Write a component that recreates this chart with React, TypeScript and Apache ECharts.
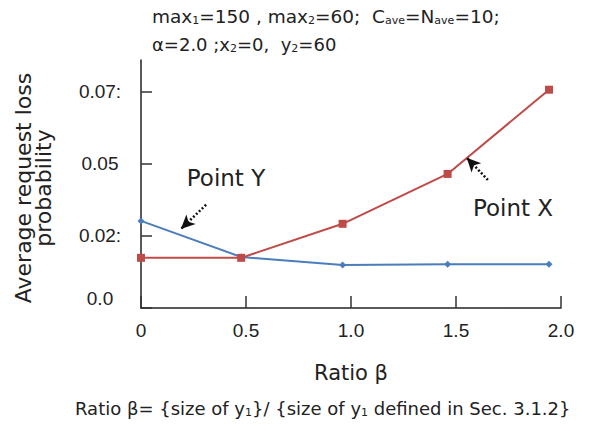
import React, { useEffect, useRef } from "react";
import * as echarts from "echarts";

const betaRed = [0, 0.477, 0.96, 1.46, 1.943];
const lossRed = [0.0174, 0.0174, 0.0292, 0.0465, 0.0757];
const betaBlue = [0, 0.477, 0.96, 1.46, 1.943];
const lossBlue = [0.0302, 0.0177, 0.0149, 0.0152, 0.0152];
const xTicks = [0, 0.5, 1.0, 1.5, 2.0];
const xTickLabels = ["0", "0.5", "1.0", "1.5", "2.0"];
const yTicks = [0, 0.025, 0.05, 0.075];
const yTickLabels = ["0.0", "0.02:", "0.05", "0.07:"];
const arrowY = [[0.31, 0.0358], [0.19, 0.0274]];
const arrowX = [[1.652, 0.0444], [1.551, 0.0521]];

const FONT = "Liberation Sans, Arial, sans-serif";
const WIDE = "DejaVu Sans, sans-serif";

export default function App() {
  const ref = useRef<HTMLDivElement>(null);
  useEffect(() => {
    if (!ref.current) return;
    const chart = echarts.init(ref.current, undefined, { renderer: "svg" });
    const arrowLine = (pts: number[][]) => ({
      silent: true,
      symbol: ["none", "arrow"],
      symbolSize: [10, 14],
      label: { show: false },
      lineStyle: { color: "#111", type: [2, 2], width: 2.5 },
      data: [[{ coord: pts[0] }, { coord: pts[1] }]],
    });
    const sub = { fontSize: 11, fill: "#222", padding: [8, 0, 0, 0], fontFamily: WIDE };
    chart.setOption({
      animation: false,
      grid: { left: 141, right: 54, top: 60, bottom: 123, containLabel: false },
      xAxis: {
        type: "value",
        min: 0,
        max: 2,
        interval: 0.5,
        axisLine: { lineStyle: { color: "#222", width: 1.5 } },
        axisTick: { inside: true, length: 12, lineStyle: { color: "#333", width: 1.5 }, customValues: xTicks },
        splitLine: { show: false },
        axisLabel: {
          customValues: xTicks,
          margin: 13,
          color: "#222",
          fontFamily: FONT,
          fontSize: 19,
          formatter: (v: number) => xTickLabels[xTicks.findIndex((t) => Math.abs(t - v) < 1e-9)] ?? "",
        },
        name: "Ratio β",
        nameLocation: "middle",
        nameGap: 54,
        nameTextStyle: { color: "#222", fontFamily: WIDE, fontSize: 21 },
      },
      yAxis: {
        type: "value",
        min: 0,
        max: 0.086,
        axisLine: { show: true, lineStyle: { color: "#222", width: 1.5 } },
        axisTick: { show: true, inside: true, length: 11, lineStyle: { color: "#333", width: 1.5 }, customValues: yTicks },
        splitLine: { show: false },
        axisLabel: {
          customValues: yTicks,
          align: "center",
          margin: 41,
          color: "#222",
          fontFamily: FONT,
          fontSize: 19,
          formatter: (v: number) => {
            const i = yTicks.findIndex((t) => Math.abs(t - v) < 1e-9);
            if (i === 0) return "{z|" + yTickLabels[0] + "}";
            return i >= 0 ? yTickLabels[i] : "";
          },
          rich: { z: { fontFamily: FONT, fontSize: 19, color: "#222", padding: [0, 0, 20, 0] } },
        },
      },
      series: [
        {
          type: "line",
          data: betaBlue.map((b, i) => [b, lossBlue[i]]),
          symbol: "diamond",
          symbolSize: 7,
          clip: false,
          itemStyle: { color: "#4A7EBB" },
          lineStyle: { color: "#4A7EBB", width: 2 },
          markLine: arrowLine(arrowY),
          z: 2,
        },
        {
          type: "line",
          data: betaRed.map((b, i) => [b, lossRed[i]]),
          symbol: "rect",
          symbolSize: 8,
          clip: false,
          itemStyle: { color: "#BE4B48" },
          lineStyle: { color: "#BE4B48", width: 2 },
          markLine: arrowLine(arrowX),
          z: 3,
        },
      ],
      graphic: [
        {
          type: "text",
          x: 152,
          y: 16,
          style: {
            text: "max{s|1}=150 , max{s|2}=60;  C{s|ave}=N{s|ave}=10;",
            font: "18.5px " + WIDE,
            fill: "#222",
            verticalAlign: "middle",
            rich: { s: sub },
          },
        },
        {
          type: "text",
          x: 152,
          y: 44,
          style: {
            text: "α=2.0 ;x{s|2}=0,  y{s|2}=60",
            font: "18px " + WIDE,
            fill: "#222",
            verticalAlign: "middle",
            rich: { s: sub },
          },
        },
        {
          type: "text",
          x: 33,
          y: 188,
          rotation: Math.PI / 2,
          style: {
            text: "Average request loss\nprobability",
            font: "22px " + WIDE,
            fill: "#222",
            align: "center",
            verticalAlign: "middle",
            lineHeight: 20,
          },
        },
        {
          type: "text",
          x: 226,
          y: 178,
          style: { text: "Point Y", font: "23px " + WIDE, fill: "#222", align: "center", verticalAlign: "middle" },
        },
        {
          type: "text",
          x: 513,
          y: 208,
          style: { text: "Point X", font: "23px " + WIDE, fill: "#222", align: "center", verticalAlign: "middle" },
        },
        {
          type: "text",
          x: 75,
          y: 408,
          style: {
            text: "Ratio β= {size of y{s|1}}/ {size of y{s|1} defined in Sec. 3.1.2}",
            font: "18px " + WIDE,
            fill: "#222",
            verticalAlign: "middle",
            rich: { s: sub },
          },
        },
      ],
    });
    return () => chart.dispose();
  }, []);
  return <div ref={ref} style={{ width: 615, height: 431, margin: -8 }} />;
}
